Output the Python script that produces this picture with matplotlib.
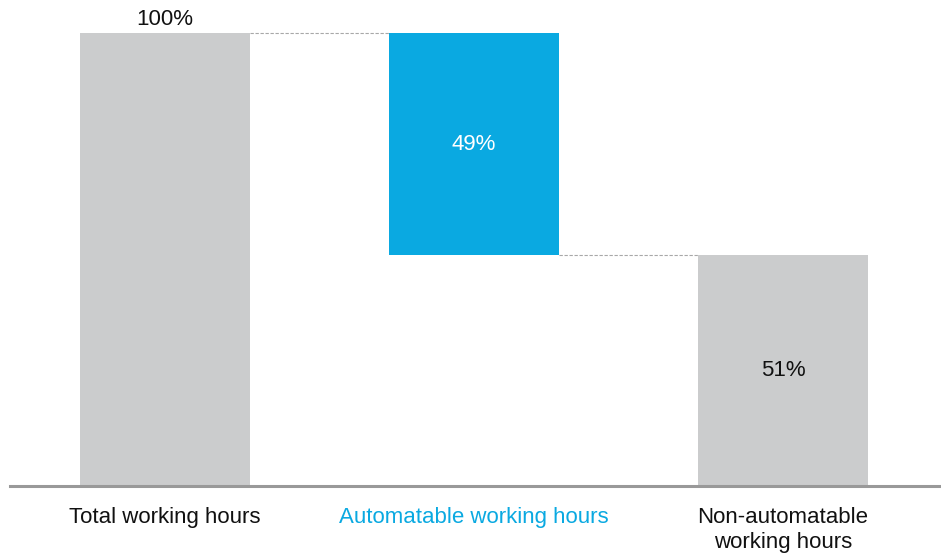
import matplotlib.pyplot as plt

categories = ['Total working hours', 'Automatable working hours',
              'Non-automatable\nworking hours']
values = [100, 49, 51]
grey = '#cbcccd'
blue = '#0aa9e1'

plt.rcParams['font.family'] = ['Liberation Sans', 'DejaVu Sans']

fig = plt.figure(figsize=(9.41, 5.56), dpi=100)
ax = fig.add_axes([10 / 941, 70 / 556, 931 / 941, 486 / 556])

# waterfall: total, drop, remainder
bottoms = [0, values[0] - values[1], 0]
colors = [grey, blue, grey]
xs = [0, 1, 2]
w = 0.55
ax.bar(xs, values, bottom=bottoms, width=w, color=colors, zorder=2)

# dashed connectors between bars
ax.plot([xs[0] + w / 2, xs[1] - w / 2], [values[0], values[0]],
        ls=(0, (3, 1.5)), lw=0.8, color='#a8a8a8')
ax.plot([xs[1] + w / 2, xs[2] - w / 2], [bottoms[1], bottoms[1]],
        ls=(0, (3, 1.5)), lw=0.8, color='#a8a8a8')

fs = 16
ax.text(xs[0], values[0] + 0.6, f'{values[0]}%', ha='center', va='bottom',
        fontsize=fs, color='#111111')
ax.text(xs[1], bottoms[1] + values[1] / 2, f'{values[1]}%', ha='center',
        va='center', fontsize=fs, color='white')
ax.text(xs[2], values[2] / 2, f'{values[2]}%', ha='center', va='center',
        fontsize=fs, color='#111111')

label_colors = ['#111111', blue, '#111111']
for x, lab, c in zip(xs, categories, label_colors):
    ax.text(x, -4.7, lab, ha='center', va='top', fontsize=fs, color=c,
            linespacing=1.22)

ax.axhline(0, color='#999999', lw=2.2, zorder=3, clip_on=False)

ax.set_xlim(-0.502, 2.511)
ax.set_ylim(0, 107.3)
ax.axis('off')

fig.savefig('out.png', dpi=100)
